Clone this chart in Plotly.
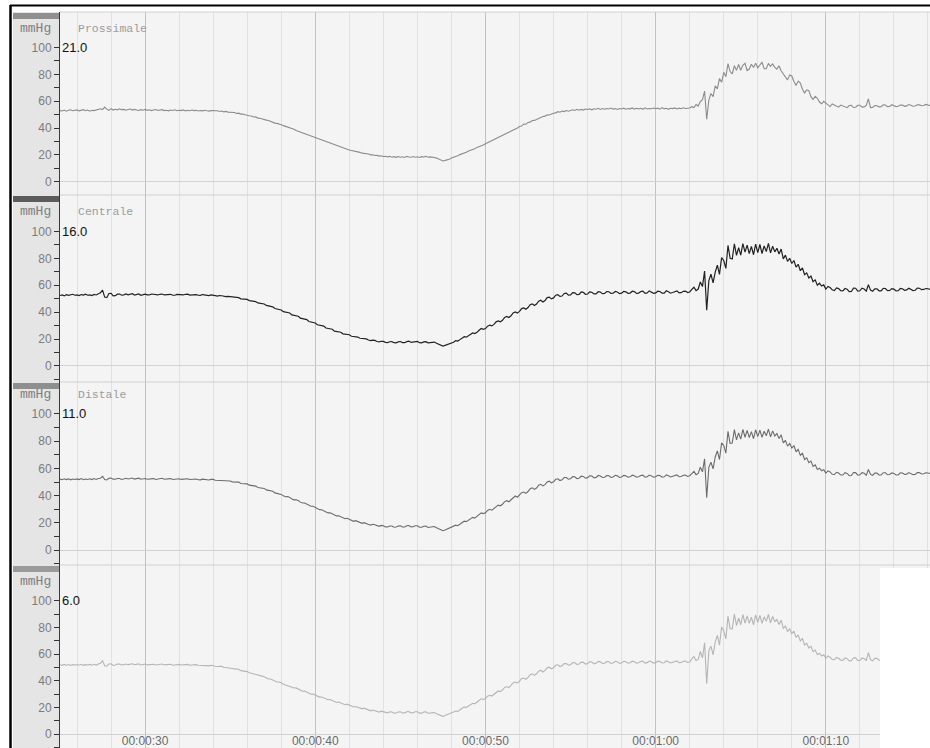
import numpy as np
import plotly.graph_objects as go

# ---- data -------------------------------------------------------------
# sampling times (s), one sample every 0.125 s
time_s = np.round(np.arange(25.0, 76.126, 0.125), 3)

x_tick_vals = [30, 40, 50, 60, 70]
x_tick_text = ["00:00:30", "00:00:40", "00:00:50", "00:01:00", "00:01:10"]

y_tick_vals = [0, 20, 40, 60, 80, 100]
y_minor_vals = [-10, 10, 30, 50, 70, 90]

channel_names = ["Prossimale", "Centrale", "Distale", ""]
channel_offsets = ["21.0", "16.0", "11.0", "6.0"]
channel_colors = ["#8c8c8c", "#222222", "#6c6c6c", "#b5b5b5"]
channel_widths = [1.1, 1.2, 1.1, 1.1]

# pressure traces, mmHg (one row per second, 8 samples each)
prossimale = [
    53.0, 52.7, 53.4, 52.6, 53.2, 53.6, 52.9, 53.3,
    53.5, 52.8, 53.1, 53.7, 52.9, 53.4, 52.6, 53.2,
    53.0, 53.6, 53.9, 54.4, 53.8, 55.6, 54.1, 53.2,
    54.5, 53.4, 54.0, 53.6, 54.3, 53.7, 53.9, 53.3,
    53.8, 54.2, 53.4, 53.9, 53.5, 53.1, 53.7, 53.3,
    53.9, 53.2, 53.6, 53.0, 53.5, 53.8, 53.1, 53.4,
    53.7, 53.0, 53.3, 52.8, 53.4, 53.1, 53.6, 52.9,
    53.3, 53.0, 53.5, 52.8, 53.2, 52.9, 53.4, 53.0,
    53.2, 52.7, 53.1, 52.8, 53.3, 52.9, 52.6, 53.0,
    53.0, 52.6, 52.9, 52.4, 52.7, 52.1, 52.4, 51.9,
    51.9, 51.5, 51.6, 50.9, 51.1, 50.4, 50.5, 49.9,
    49.8, 49.2, 49.0, 48.2, 48.3, 47.4, 47.3, 46.7,
    46.6, 45.9, 45.6, 44.8, 44.6, 43.7, 43.5, 42.7,
    42.4, 41.8, 41.3, 40.6, 40.2, 39.3, 39.1, 38.2,
    37.6, 37.2, 36.4, 35.9, 35.1, 34.7, 33.8, 33.4,
    32.6, 32.1, 31.5, 30.8, 30.3, 29.6, 29.2, 28.4,
    27.9, 27.5, 26.8, 26.5, 25.7, 25.4, 24.8, 24.2,
    23.7, 23.4, 22.8, 22.6, 22.0, 21.9, 21.3, 21.2,
    20.7, 20.6, 20.0, 20.1, 19.5, 19.6, 19.1, 19.3,
    18.8, 19.0, 18.5, 18.9, 18.3, 18.7, 18.2, 18.8,
    18.3, 18.6, 18.1, 18.9, 18.4, 18.2, 18.8, 18.3,
    18.6, 18.1, 18.7, 18.4, 18.9, 18.2, 18.5, 18.0,
    18.0, 17.6, 17.1, 16.3, 15.5, 15.9, 16.2, 16.8,
    17.6, 18.0, 18.9, 19.3, 20.2, 20.7, 21.6, 22.0,
    22.9, 23.4, 24.3, 24.6, 25.6, 26.1, 27.0, 27.4,
    28.3, 29.1, 29.7, 30.6, 31.4, 31.9, 33.0, 33.5,
    34.6, 35.0, 36.2, 36.7, 37.9, 38.2, 39.5, 40.0,
    41.2, 41.5, 42.9, 42.8, 44.2, 44.4, 45.6, 45.7,
    46.4, 47.3, 47.6, 48.6, 48.9, 49.8, 49.7, 50.6,
    51.0, 51.3, 52.2, 51.8, 52.7, 52.3, 53.1, 52.6,
    53.0, 53.6, 53.1, 54.0, 53.3, 53.9, 53.4, 54.2,
    53.8, 54.3, 53.6, 54.4, 54.0, 54.7, 53.9, 54.5,
    54.0, 54.6, 54.2, 54.9, 54.1, 54.5, 53.9, 54.6,
    54.2, 54.8, 54.0, 54.5, 54.3, 55.0, 54.1, 54.7,
    54.3, 54.7, 54.0, 55.1, 54.2, 54.6, 54.4, 54.9,
    54.4, 54.8, 54.1, 55.2, 54.3, 54.7, 54.0, 54.8,
    54.5, 55.0, 54.2, 54.8, 54.4, 55.1, 54.6, 54.9,
    55.0, 55.9, 55.3, 57.6, 56.4, 59.8, 61.2, 67.5,
    46.5, 60.8, 65.8, 63.4, 71.5, 69.2, 77.0, 74.1,
    81.6, 78.3, 88.0, 82.1, 80.4, 86.5, 83.0, 87.4,
    83.1, 86.8, 88.3, 82.9, 84.0, 87.6, 85.1, 88.4,
    84.9, 87.0, 89.1, 84.3, 84.2, 88.2, 86.0, 87.8,
    85.2, 83.9, 86.4, 82.5, 80.5, 78.0, 75.9, 79.6,
    78.8, 74.7, 71.8, 75.0, 73.6, 68.9, 66.2, 68.5,
    67.9, 63.4, 61.3, 63.7, 62.2, 59.4, 58.1, 59.9,
    58.6, 57.1, 56.0, 58.0, 57.2, 55.9, 55.6, 57.1,
    56.4, 55.5, 55.2, 56.8, 56.9, 55.3, 55.5, 57.0,
    57.0, 55.6, 55.8, 56.9, 61.8, 55.2, 55.4, 56.7,
    56.6, 55.8, 55.9, 57.3, 57.2, 56.0, 56.1, 57.4,
    56.8, 56.0, 56.3, 57.2, 57.1, 56.2, 56.5, 57.5,
    57.0, 56.3, 56.4, 57.4, 57.3, 56.6, 56.8, 57.6,
    57.2, 56.7,
]

centrale = [
    52.4, 52.8, 52.1, 53.0, 52.5, 52.9, 53.3, 52.6,
    52.8, 52.3, 53.1, 52.7, 53.4, 52.6, 52.9, 52.4,
    53.2, 52.8, 53.6, 54.5, 56.4, 51.2, 50.8, 53.9,
    54.0, 52.1, 52.3, 53.4, 53.5, 52.6, 52.9, 53.6,
    52.9, 53.5, 53.8, 52.7, 53.1, 53.6, 52.6, 53.0,
    53.4, 52.9, 52.8, 53.5, 53.2, 52.7, 52.8, 53.3,
    53.5, 52.8, 52.9, 53.4, 53.3, 52.6, 52.6, 53.2,
    53.1, 52.7, 52.8, 53.3, 53.4, 52.7, 52.9, 53.2,
    53.0, 52.6, 52.5, 53.1, 52.9, 52.4, 52.3, 52.8,
    52.8, 52.3, 52.0, 52.4, 52.2, 51.6, 51.5, 51.8,
    51.6, 51.0, 50.7, 50.9, 50.8, 49.9, 49.6, 49.8,
    49.5, 48.6, 48.2, 48.3, 47.9, 46.9, 46.5, 46.6,
    46.1, 45.0, 44.5, 44.4, 44.0, 42.7, 42.3, 42.2,
    41.6, 40.4, 39.9, 39.8, 39.4, 38.0, 37.6, 37.5,
    37.0, 35.6, 35.2, 35.0, 34.5, 33.1, 32.7, 32.6,
    32.0, 30.6, 30.2, 30.0, 29.6, 28.2, 27.8, 27.7,
    27.3, 25.9, 25.7, 25.4, 25.1, 23.9, 23.6, 23.7,
    23.2, 22.1, 21.9, 22.0, 21.5, 20.6, 20.4, 20.6,
    20.1, 19.3, 18.9, 19.2, 19.0, 18.2, 17.9, 18.4,
    18.3, 17.6, 17.4, 18.0, 18.1, 17.3, 17.2, 17.9,
    18.2, 17.4, 17.3, 18.1, 18.5, 17.5, 17.6, 18.2,
    18.3, 17.3, 17.2, 17.9, 18.1, 17.2, 17.3, 17.8,
    17.8, 16.9, 16.2, 15.6, 14.8, 15.3, 15.9, 16.6,
    17.0, 17.6, 18.9, 18.5, 19.6, 20.6, 21.8, 21.4,
    22.3, 23.8, 24.6, 24.1, 25.0, 26.6, 27.9, 27.2,
    27.8, 29.6, 30.4, 29.8, 30.9, 32.8, 33.5, 32.9,
    34.0, 36.1, 36.8, 36.0, 37.3, 39.4, 40.2, 39.3,
    40.6, 42.7, 43.1, 42.2, 43.4, 45.6, 46.2, 45.0,
    46.0, 48.2, 48.9, 47.6, 48.6, 50.8, 51.2, 49.9,
    50.6, 52.6, 53.0, 51.7, 52.0, 53.9, 54.2, 52.6,
    52.8, 54.6, 54.4, 53.0, 53.2, 55.0, 54.7, 53.3,
    53.5, 55.1, 54.8, 53.6, 53.6, 55.2, 55.0, 53.8,
    54.0, 55.3, 55.2, 53.9, 54.1, 55.4, 55.0, 53.8,
    54.1, 55.5, 55.1, 54.0, 54.2, 55.6, 55.3, 54.0,
    54.2, 55.3, 55.6, 54.0, 54.3, 55.8, 55.1, 54.0,
    54.3, 55.6, 55.4, 54.1, 54.2, 55.9, 55.2, 54.1,
    54.6, 55.2, 55.8, 54.4, 54.5, 55.5, 55.7, 54.6,
    55.0, 56.9, 58.5, 56.0, 57.2, 62.4, 59.0, 70.5,
    41.5, 63.5, 68.2, 61.8, 69.8, 74.9, 68.1, 80.6,
    78.4, 72.5, 89.6, 80.1, 79.5, 90.8, 82.3, 88.0,
    82.4, 91.0, 84.6, 89.8, 83.5, 88.9, 82.7, 90.6,
    84.2, 90.3, 83.6, 89.2, 85.0, 91.2, 84.1, 89.0,
    84.8, 87.5, 83.3, 86.9, 79.6, 82.4, 77.8, 80.1,
    76.2, 78.4, 73.5, 75.6, 70.8, 72.9, 67.9, 69.2,
    65.4, 66.8, 62.7, 64.0, 60.1, 61.5, 59.4, 60.3,
    57.2, 59.1, 58.3, 56.6, 56.1, 58.0, 57.5, 55.9,
    55.8, 57.6, 57.0, 55.3, 55.4, 57.9, 57.8, 55.7,
    55.9, 57.8, 57.2, 55.6, 60.5, 56.4, 55.6, 57.4,
    57.3, 55.9, 55.8, 57.7, 57.6, 56.0, 56.2, 57.5,
    57.1, 55.8, 55.9, 57.6, 57.4, 56.3, 56.6, 57.8,
    57.2, 56.1, 56.3, 57.9, 57.8, 56.7, 56.9, 57.6,
    57.4, 57.0,
]

distale = [
    52.1, 51.7, 52.4, 51.8, 52.3, 51.6, 52.2, 51.9,
    52.3, 51.8, 52.5, 51.7, 52.2, 51.9, 52.4, 51.8,
    52.5, 51.9, 52.6, 52.8, 54.2, 51.8, 51.6, 52.7,
    52.9, 52.1, 52.0, 52.6, 52.6, 51.9, 52.2, 52.7,
    52.2, 52.8, 52.9, 52.1, 52.4, 52.8, 52.0, 52.3,
    52.6, 52.0, 52.1, 52.7, 52.5, 51.9, 52.0, 52.6,
    52.7, 52.0, 52.2, 52.6, 52.5, 51.8, 51.9, 52.5,
    52.4, 51.9, 52.0, 52.5, 52.4, 51.8, 52.0, 52.4,
    52.2, 51.7, 51.6, 52.1, 51.9, 51.4, 51.5, 51.9,
    51.9, 51.3, 51.2, 51.5, 51.4, 50.8, 50.7, 50.9,
    50.7, 50.1, 49.9, 49.9, 49.9, 48.9, 48.8, 48.8,
    48.6, 47.7, 47.4, 47.4, 47.0, 46.0, 45.7, 45.6,
    45.3, 44.2, 43.7, 43.6, 43.2, 42.0, 41.6, 41.6,
    40.9, 39.8, 39.2, 39.3, 38.7, 37.5, 36.9, 37.0,
    36.4, 35.2, 34.6, 34.6, 33.9, 32.8, 32.2, 32.2,
    31.4, 30.3, 29.7, 29.6, 29.0, 27.9, 27.3, 27.4,
    26.8, 25.7, 25.1, 25.2, 24.6, 23.6, 23.0, 23.3,
    22.7, 21.7, 21.1, 21.6, 21.0, 20.0, 19.6, 20.1,
    19.7, 18.8, 18.3, 18.9, 18.6, 17.7, 17.4, 18.1,
    17.9, 17.0, 16.9, 17.7, 17.7, 16.8, 16.9, 17.6,
    17.8, 16.9, 16.9, 17.8, 18.0, 17.0, 17.1, 17.8,
    17.8, 16.8, 16.7, 17.5, 17.6, 16.6, 16.9, 17.4,
    17.3, 16.4, 15.6, 14.9, 14.2, 14.8, 15.4, 16.0,
    16.6, 17.2, 18.3, 17.9, 19.2, 20.1, 21.2, 20.9,
    21.8, 23.2, 24.0, 23.5, 24.6, 26.1, 27.3, 26.8,
    27.4, 29.1, 29.9, 29.3, 30.5, 32.3, 33.0, 32.5,
    33.6, 35.6, 36.3, 35.5, 36.9, 38.9, 39.7, 38.8,
    40.2, 42.2, 42.6, 41.7, 43.0, 45.0, 45.7, 44.6,
    45.6, 47.6, 48.3, 47.1, 48.1, 50.1, 50.6, 49.4,
    50.1, 52.0, 52.4, 51.1, 51.6, 53.3, 53.3, 52.1,
    52.4, 54.0, 53.8, 52.5, 52.8, 54.3, 54.1, 52.8,
    53.2, 54.6, 54.4, 53.0, 53.4, 54.8, 54.4, 53.3,
    53.5, 54.7, 54.6, 53.3, 53.7, 54.9, 54.5, 53.3,
    53.7, 54.9, 54.6, 53.5, 53.8, 55.0, 54.6, 53.5,
    53.8, 54.8, 55.0, 53.6, 53.9, 55.1, 54.5, 53.6,
    53.9, 55.0, 54.8, 53.6, 53.8, 55.2, 54.6, 53.7,
    54.2, 54.8, 55.2, 53.9, 54.0, 55.0, 55.1, 54.1,
    54.6, 56.2, 57.8, 55.4, 56.3, 60.9, 57.5, 67.0,
    38.5, 60.8, 64.5, 59.7, 68.4, 72.8, 66.5, 78.8,
    76.9, 71.2, 87.2, 78.4, 78.6, 88.5, 80.9, 86.1,
    81.5, 88.7, 82.9, 87.9, 82.6, 87.0, 81.8, 88.4,
    83.3, 88.1, 82.8, 87.3, 84.0, 88.9, 83.2, 87.6,
    83.9, 85.6, 81.9, 84.7, 78.7, 80.6, 76.4, 78.3,
    75.0, 76.8, 72.2, 74.0, 69.6, 71.1, 66.5, 67.8,
    64.2, 65.4, 61.5, 62.6, 59.2, 60.1, 58.3, 59.0,
    56.5, 58.2, 57.4, 55.7, 55.5, 57.1, 56.6, 55.1,
    55.1, 56.8, 56.3, 54.6, 54.8, 57.0, 56.9, 55.0,
    55.3, 56.9, 56.4, 54.9, 59.2, 55.6, 54.9, 56.5,
    56.5, 55.2, 55.1, 56.8, 56.8, 55.3, 55.5, 56.7,
    56.3, 55.1, 55.2, 56.8, 56.6, 55.5, 55.8, 56.9,
    56.4, 55.4, 55.6, 57.0, 56.9, 55.9, 56.1, 56.8,
    56.6, 56.2,
]

canale_4 = [
    52.0, 51.6, 52.3, 51.7, 52.2, 51.5, 52.1, 51.8,
    52.2, 51.7, 52.4, 51.6, 52.1, 51.8, 52.3, 51.7,
    52.4, 51.8, 52.5, 53.2, 55.0, 51.3, 50.9, 52.6,
    52.8, 51.6, 51.9, 52.5, 52.5, 51.8, 52.1, 52.6,
    52.1, 52.7, 52.8, 52.0, 52.3, 52.7, 51.9, 52.2,
    52.5, 51.9, 52.0, 52.6, 52.4, 51.8, 51.9, 52.5,
    52.6, 51.9, 52.1, 52.5, 52.4, 51.7, 51.8, 52.4,
    52.3, 51.8, 51.9, 52.4, 52.3, 51.7, 51.9, 52.3,
    52.1, 51.6, 51.5, 51.9, 51.7, 51.2, 51.2, 51.6,
    51.5, 50.9, 50.7, 51.0, 50.8, 50.2, 50.0, 50.1,
    49.9, 49.2, 48.9, 48.9, 48.6, 47.6, 47.3, 47.3,
    46.9, 46.0, 45.5, 45.5, 45.0, 44.0, 43.5, 43.5,
    43.1, 42.0, 41.4, 41.4, 40.8, 39.7, 39.1, 39.1,
    38.6, 37.5, 36.9, 36.9, 36.3, 35.2, 34.6, 34.7,
    33.9, 32.9, 32.2, 32.3, 31.5, 30.6, 30.0, 30.1,
    29.3, 28.4, 27.8, 27.9, 27.1, 26.3, 25.8, 26.0,
    25.2, 24.4, 23.8, 24.1, 23.3, 22.5, 22.1, 22.5,
    21.7, 21.0, 20.4, 20.8, 20.1, 19.4, 19.0, 19.5,
    18.7, 18.0, 17.5, 18.1, 17.6, 16.9, 16.6, 17.3,
    16.8, 16.1, 16.0, 16.8, 16.6, 15.8, 15.9, 16.6,
    16.8, 15.9, 16.0, 16.9, 17.0, 16.0, 16.1, 16.8,
    16.8, 15.8, 15.8, 16.6, 16.7, 15.7, 15.9, 16.5,
    16.2, 15.4, 14.6, 14.0, 13.4, 14.0, 14.7, 15.3,
    15.8, 16.5, 17.4, 17.1, 18.5, 19.4, 20.3, 20.1,
    21.1, 22.5, 23.2, 22.8, 23.9, 25.5, 26.5, 26.1,
    26.8, 28.5, 29.2, 28.6, 29.9, 31.7, 32.4, 31.9,
    33.1, 35.0, 35.7, 34.9, 36.4, 38.4, 39.1, 38.3,
    39.7, 41.7, 42.1, 41.2, 42.6, 44.6, 45.2, 44.1,
    45.3, 47.2, 47.9, 46.6, 47.8, 49.7, 50.2, 49.0,
    49.8, 51.6, 52.0, 50.7, 51.3, 52.9, 52.9, 51.7,
    52.1, 53.7, 53.5, 52.2, 52.5, 54.0, 53.8, 52.5,
    52.9, 54.2, 54.1, 52.7, 53.1, 54.5, 54.2, 53.0,
    53.2, 54.4, 54.3, 53.0, 53.4, 54.6, 54.2, 53.0,
    53.4, 54.6, 54.3, 53.2, 53.5, 54.7, 54.3, 53.2,
    53.5, 54.5, 54.7, 53.3, 53.6, 54.8, 54.2, 53.3,
    53.6, 54.7, 54.5, 53.3, 53.5, 54.9, 54.3, 53.4,
    53.9, 54.5, 54.9, 53.6, 53.7, 54.7, 54.8, 53.8,
    54.0, 56.4, 58.2, 55.2, 56.0, 62.0, 57.1, 68.5,
    37.8, 62.4, 66.0, 59.5, 68.9, 74.0, 66.8, 80.2,
    77.5, 71.4, 88.4, 79.0, 78.9, 89.9, 81.4, 87.0,
    82.0, 89.6, 83.1, 88.6, 83.1, 87.6, 81.9, 89.4,
    83.8, 88.9, 83.1, 87.9, 84.5, 89.7, 83.4, 88.2,
    84.3, 85.9, 82.2, 85.4, 79.0, 81.2, 76.8, 78.9,
    75.3, 77.2, 72.5, 74.4, 69.9, 71.6, 66.8, 68.1,
    64.5, 65.9, 61.8, 63.0, 59.5, 60.6, 58.6, 59.5,
    56.8, 58.6, 57.7, 56.0, 55.8, 57.5, 56.9, 55.4,
    55.3, 57.1, 56.6, 54.9, 55.0, 57.3, 57.2, 55.2,
    55.2, 57.0, 56.7, 55.1, 61.0, 55.8, 55.0, 56.8,
    56.8, 55.5, 55.6,
]

traces_data = [prossimale, centrale, distale, canale_4]

# ---- layout geometry --------------------------------------------------
W, H = 930, 748
ML, MT = 60, 12
PW, PH = W - ML, H - MT


def px_x(x):
    return (x - ML) / PW


def px_y(y):
    return (H - y) / PH


# channel strips in pixels (top, bottom)
panel_px = [(12, 195), (195, 382), (382, 565), (565, 748)]
y_ranges = [[-9.9, 126.5], [-11.9, 127.1], [-11.0, 123.5], [-10.3, 126.7]]

fig = go.Figure()

for i, vals in enumerate(traces_data):
    n = i + 1
    fig.add_trace(go.Scatter(
        x=time_s[:len(vals)], y=vals, mode="lines",
        line=dict(color=channel_colors[i], width=channel_widths[i]),
        xaxis="x" if n == 1 else f"x{n}",
        yaxis="y" if n == 1 else f"y{n}",
        showlegend=False, hoverinfo="skip",
    ))

axes = {}
for i in range(4):
    n = i + 1
    sx = "" if n == 1 else str(n)
    top, bot = panel_px[i]
    axes[f"xaxis{sx}"] = dict(
        domain=[0, 1], anchor=f"y{sx}", range=[25.0, 76.12],
        matches=None if n == 1 else "x",
        tickmode="array", tickvals=x_tick_vals, ticktext=x_tick_text,
        showticklabels=(n == 4), ticks="", ticklabelstandoff=-16,
        automargin=False,
        tickfont=dict(family="Liberation Sans, Arial", size=12, color="#6a6a6a"),
        showgrid=True, gridcolor="#c2c2c2", gridwidth=1,
        minor=dict(tick0=0, dtick=2, showgrid=True, gridcolor="#e1e1e1",
                   gridwidth=1, ticks=""),
        zeroline=False, showline=False,
    )
    axes[f"yaxis{sx}"] = dict(
        domain=[px_y(bot), px_y(top)], anchor=f"x{sx}", range=y_ranges[i],
        tickmode="array", tickvals=y_tick_vals, automargin=False,
        ticks="outside", ticklen=5, tickcolor="#333333", tickwidth=1,
        minor=dict(tickvals=y_minor_vals, ticks="outside", ticklen=5,
                   tickcolor="#333333", tickwidth=1, showgrid=False),
        tickfont=dict(family="Liberation Sans, Arial", size=12, color="#7c7c7c"),
        showgrid=False, zeroline=True, zerolinecolor="#d2d2d2", zerolinewidth=1,
        showline=True, linecolor="#3a3a3a", linewidth=1,
    )

shapes = []
# grey label column on the left
shapes.append(dict(type="rect", xref="paper", yref="paper",
                   x0=px_x(13), x1=0, y0=0, y1=px_y(12),
                   fillcolor="#e5e5e5", line=dict(width=0), layer="below"))
header_cols = ["#8f8f8f", "#5c5c5c", "#8f8f8f", "#9a9a9a"]
for i, (top, bot) in enumerate(panel_px):
    shapes.append(dict(type="rect", xref="paper", yref="paper",
                       x0=px_x(13), x1=0, y0=px_y(top + 7), y1=px_y(top + 1),
                       fillcolor=header_cols[i], line=dict(width=0), layer="below"))
    # faint separator between channels
    shapes.append(dict(type="line", xref="paper", yref="paper",
                       x0=0, x1=1, y0=px_y(top), y1=px_y(top),
                       line=dict(color="#d0d0d0", width=1), layer="above"))
# blank corner at the lower right
shapes.append(dict(type="rect", xref="paper", yref="paper",
                   x0=px_x(880), x1=1.0, y0=0, y1=px_y(568),
                   fillcolor="#ffffff", line=dict(width=0), layer="above"))
# black frame lines
shapes.append(dict(type="line", xref="paper", yref="paper",
                   x0=px_x(10.5), x1=px_x(10.5), y0=0, y1=px_y(5),
                   line=dict(color="#000000", width=2.5)))
shapes.append(dict(type="line", xref="paper", yref="paper",
                   x0=px_x(10), x1=1.0, y0=px_y(5.5), y1=px_y(5.5),
                   line=dict(color="#000000", width=2)))

annotations = []
for i in range(4):
    n = i + 1
    yref = "y" if n == 1 else f"y{n}"
    annotations.append(dict(
        text="mmHg", xref="paper", x=0, xanchor="right", xshift=-7,
        yref=yref, y=114.5, yanchor="middle", showarrow=False,
        font=dict(family="Liberation Mono, Courier New, monospace",
                  size=13, color="#7e7e7e")))
    if channel_names[i]:
        annotations.append(dict(
            text=channel_names[i], xref="paper", x=0, xanchor="left", xshift=16,
            yref=yref, y=114.5, yanchor="middle", showarrow=False,
            font=dict(family="Liberation Mono, Courier New, monospace",
                      size=11.5, color="#9c9c9c")))
    annotations.append(dict(
        text=channel_offsets[i], xref="paper", x=0, xanchor="left", xshift=0,
        yref=yref, y=100, yanchor="middle", showarrow=False,
        font=dict(family="Liberation Sans, Arial", size=13, color="#111111")))

fig.update_layout(
    width=W, height=H,
    margin=dict(l=ML, r=0, t=MT, b=0, pad=0),
    paper_bgcolor="#ffffff", plot_bgcolor="#f4f4f4",
    shapes=shapes, annotations=annotations,
    **axes,
)

fig.write_html("out.html")
